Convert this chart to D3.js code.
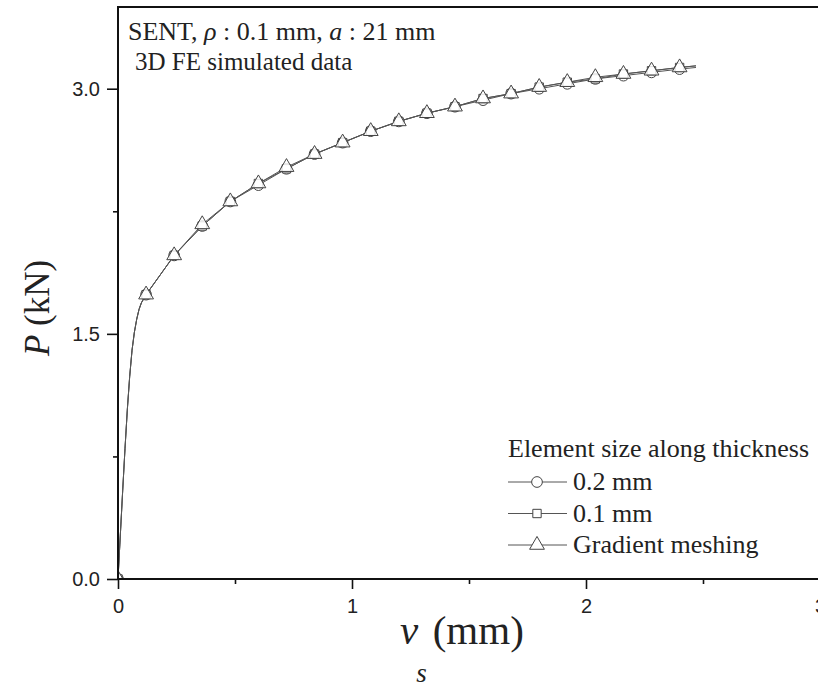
<!DOCTYPE html>
<html>
<head>
<meta charset="utf-8">
<script src="https://cdn.jsdelivr.net/npm/d3@7"></script>
<style>
  body { margin: 0; background: #fff; }
  svg { display: block; }
  .tick text { font-family: "Liberation Sans", Arial, sans-serif; font-size: 20px; fill: #222; }
  .serif { font-family: "Liberation Serif", "Times New Roman", serif; fill: #222; }
</style>
</head>
<body>
<div id="viz"></div>
<script>
// displacement v_s (mm) at sampled points
var vs = [0, 0.01, 0.02, 0.03, 0.04, 0.05, 0.06, 0.07, 0.08, 0.09, 0.10,
  0.12, 0.24, 0.36, 0.48, 0.60, 0.72, 0.84, 0.96, 1.08, 1.20, 1.32, 1.44,
  1.56, 1.68, 1.80, 1.92, 2.04, 2.16, 2.28, 2.40, 2.47];
// load P (kN) for each mesh
var p02 = [0, 0.27, 0.54, 0.80, 1.04, 1.24, 1.40, 1.51, 1.59, 1.65, 1.69,
  1.74, 1.98, 2.16, 2.31, 2.41, 2.51, 2.60, 2.67, 2.74, 2.80, 2.85, 2.89,
  2.93, 2.97, 3.00, 3.03, 3.06, 3.08, 3.10, 3.12, 3.13];
var p01 = [0, 0.27, 0.54, 0.80, 1.04, 1.24, 1.40, 1.51, 1.59, 1.65, 1.69,
  1.74, 1.98, 2.16, 2.31, 2.42, 2.51, 2.60, 2.67, 2.74, 2.80, 2.85, 2.89,
  2.94, 2.97, 3.01, 3.04, 3.06, 3.09, 3.11, 3.13, 3.14];
var pGrad = [0, 0.27, 0.54, 0.80, 1.04, 1.24, 1.40, 1.51, 1.59, 1.65, 1.69,
  1.74, 1.98, 2.17, 2.31, 2.42, 2.52, 2.60, 2.67, 2.74, 2.80, 2.85, 2.89,
  2.94, 2.97, 3.01, 3.04, 3.07, 3.09, 3.11, 3.13, 3.14];
// markers are only drawn every 0.12 mm
var markerX = [0, 0.12, 0.24, 0.36, 0.48, 0.60, 0.72, 0.84, 0.96, 1.08, 1.20,
  1.32, 1.44, 1.56, 1.68, 1.80, 1.92, 2.04, 2.16, 2.28, 2.40];

var xTicks = [0, 1, 2, 3], xMinor = [0.5, 1.5, 2.5];
var yTicks = [0, 1.5, 3.0], yMinor = [0.75, 2.25];
var legendLabels = ["0.2 mm", "0.1 mm", "Gradient meshing"];

var margin = {top: 7, right: 0, bottom: 109, left: 118},
    width = 702,
    height = 572;

var x = d3.scaleLinear().domain([0, 3]).range([0, width]),
    y = d3.scaleLinear().domain([0, 3.5]).range([height, 0]);

var root = d3.select("#viz").append("svg")
    .attr("width", 818)
    .attr("height", 688);

var svg = root.append("g")
    .attr("transform", "translate(" + margin.left + "," + margin.top + ")");

svg.append("clipPath").attr("id", "clip")
  .append("rect").attr("width", width).attr("height", height);

var series = [
  {name: legendLabels[0], vals: p02, shape: d3.symbolCircle, size: 90},
  {name: legendLabels[1], vals: p01, shape: d3.symbolSquare, size: 70},
  {name: legendLabels[2], vals: pGrad, shape: d3.symbolTriangle, size: 95}
];

var line = d3.line()
    .x(function(d) { return x(d[0]); })
    .y(function(d) { return y(d[1]); });

var plot = svg.append("g").attr("clip-path", "url(#clip)");

series.forEach(function(s) {
  var pts = vs.map(function(v, i) { return [v, s.vals[i]]; });
  plot.append("path")
      .datum(pts)
      .attr("d", line)
      .attr("fill", "none")
      .attr("stroke", "#555")
      .attr("stroke-width", 1);
});

series.forEach(function(s) {
  var pts = vs.map(function(v, i) { return [v, s.vals[i]]; })
      .filter(function(d) { return markerX.some(function(m) { return Math.abs(m - d[0]) < 1e-9; }); });
  plot.selectAll(null)
      .data(pts)
    .enter().append("path")
      .attr("d", d3.symbol().type(s.shape).size(s.size))
      .attr("transform", function(d) { return "translate(" + x(d[0]) + "," + y(d[1]) + ")"; })
      .attr("fill", "#fff")
      .attr("fill-opacity", 0.85)
      .attr("stroke", "#444")
      .attr("stroke-width", 1);
});

// axes
svg.append("g")
    .attr("transform", "translate(0," + height + ")")
    .call(d3.axisBottom(x).tickValues(xTicks).tickSize(10).tickPadding(10).tickFormat(d3.format("d")));
svg.append("g")
    .attr("transform", "translate(0," + height + ")")
    .call(d3.axisBottom(x).tickValues(xMinor).tickSize(5).tickFormat(""));
svg.append("g")
    .call(d3.axisLeft(y).tickValues(yTicks).tickSize(11).tickPadding(7).tickFormat(d3.format(".1f")));
svg.append("g")
    .call(d3.axisLeft(y).tickValues(yMinor).tickSize(5).tickFormat(""));
svg.selectAll(".domain").remove();
svg.selectAll(".tick line").attr("stroke", "#111").attr("stroke-width", 1.6);

svg.append("rect")
    .attr("width", width)
    .attr("height", height)
    .attr("fill", "none")
    .attr("stroke", "#111")
    .attr("stroke-width", 2);

// annotation
var ann = svg.append("text").attr("class", "serif")
    .attr("x", 10).attr("y", 33).style("font-size", "26px");
ann.append("tspan").text("SENT, ");
ann.append("tspan").style("font-style", "italic").text("ρ");
ann.append("tspan").text(" : 0.1 mm, ");
ann.append("tspan").style("font-style", "italic").text("a");
ann.append("tspan").text(" : 21 mm");

svg.append("text").attr("class", "serif")
    .attr("x", 17).attr("y", 63).style("font-size", "25px")
    .text("3D FE simulated data");

// legend
var leg = svg.append("g").attr("transform", "translate(390,450)");
leg.append("text").attr("class", "serif")
    .attr("x", 0).attr("y", 0).style("font-size", "26px")
    .text("Element size along thickness");
series.forEach(function(s, i) {
  var gy = 33 + i * 31.5 - 8;
  leg.append("line")
      .attr("x1", 0).attr("x2", 59)
      .attr("y1", gy).attr("y2", gy)
      .attr("stroke", "#555").attr("stroke-width", 1);
  leg.append("path")
      .attr("d", d3.symbol().type(s.shape).size(s.size))
      .attr("transform", "translate(29," + gy + ")")
      .attr("fill", "#fff").attr("stroke", "#444");
  leg.append("text").attr("class", "serif")
      .attr("x", 65).attr("y", gy + 8).style("font-size", "26px")
      .text(s.name);
});

// axis titles
var yt = root.append("text").attr("class", "serif")
    .attr("transform", "translate(49,308) rotate(-90)")
    .attr("text-anchor", "middle")
    .style("font-size", "35px");
yt.append("tspan").style("font-style", "italic").text("P");
yt.append("tspan").text(" (kN)");

var xt = root.append("text").attr("class", "serif")
    .attr("x", 400).attr("y", 644)
    .style("font-size", "41px");
xt.append("tspan").style("font-style", "italic").text("v");
xt.append("tspan").style("font-style", "italic").style("font-size", "27px")
    .attr("dy", 38).attr("dx", -2).text("s");
xt.append("tspan").attr("dy", -38).attr("dx", 6).text("(mm)");
</script>
</body>
</html>
